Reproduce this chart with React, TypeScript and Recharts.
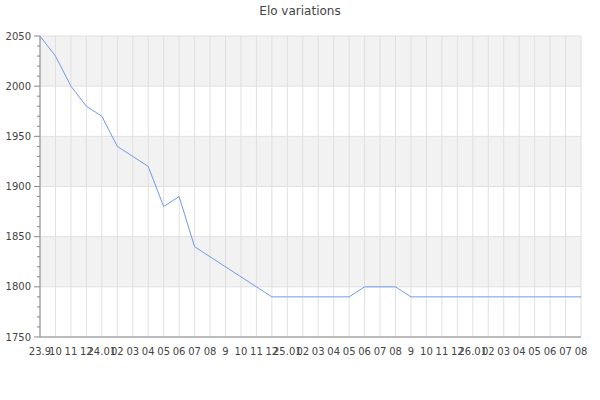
import { CartesianGrid, Line, LineChart, XAxis, YAxis } from 'recharts';

const MONTHS = [
  '23.9', '10', '11', '12',
  '24.01', '02', '03', '04', '05', '06', '07', '08', '9', '10', '11', '12',
  '25.01', '02', '03', '04', '05', '06', '07', '08', '9', '10', '11', '12',
  '26.01', '02', '03', '04', '05', '06', '07', '08',
];

const ELO = [
  2050, 2030, 2000, 1980, 1970, 1940, 1930, 1920, 1880, 1890, 1840, 1830,
  1820, 1810, 1800, 1790, 1790, 1790, 1790, 1790, 1790, 1800, 1800, 1800,
  1790, 1790, 1790, 1790, 1790, 1790, 1790, 1790, 1790, 1790, 1790, 1790,
];

const Y_TICKS = [1750, 1760, 1770, 1780, 1790, 1800, 1810, 1820, 1830, 1840,
  1850, 1860, 1870, 1880, 1890, 1900, 1910, 1920, 1930, 1940, 1950, 1960,
  1970, 1980, 1990, 2000, 2010, 2020, 2030, 2040, 2050];
const Y_MAJOR = [1750, 1800, 1850, 1900, 1950, 2000, 2050];

const data = MONTHS.map((label, i) => ({ idx: i, label, elo: ELO[i] }));

const FONT = '"DejaVu Sans", sans-serif';

// y tick: long line + label on the 50s, short line otherwise
const YTick = (props: any) => {
  const { x, y, payload } = props;
  const axisX = x + 9;
  const major = Y_MAJOR.includes(payload.value);
  return (
    <g>
      <line x1={axisX - (major ? 6 : 3)} x2={axisX} y1={y} y2={y} stroke="#888" />
      {major && (
        <text x={x} y={y} dy="0.35em" textAnchor="end" fontSize={10} fill="#444" fontFamily={FONT}>
          {payload.value}
        </text>
      )}
    </g>
  );
};

export default function App() {
  return (
    <div style={{ position: 'absolute', left: 0, top: 0, width: 600, height: 400, background: '#fff' }}>
      <div
        style={{
          position: 'absolute', top: 4, left: 0, width: 600, textAlign: 'center',
          fontFamily: FONT, fontSize: 12, color: '#444',
        }}
      >
        Elo variations
      </div>
      <LineChart width={600} height={400} data={data} margin={{ top: 36, right: 19, bottom: 33, left: 0 }}>
        <CartesianGrid stroke="#e0e0e0" horizontalFill={['#f2f2f2', '#ffffff']} fillOpacity={1}
          horizontalValues={Y_MAJOR} />
        <XAxis
          dataKey="idx"
          type="number"
          domain={[0, MONTHS.length - 1]}
          ticks={data.map((d) => d.idx)}
          interval={0}
          tickFormatter={(v) => MONTHS[v]}
          tickLine={false}
          tickSize={0}
          tickMargin={11}
          height={30}
          stroke="#888"
          tick={{ fontSize: 10, fill: '#444', fontFamily: FONT }}
        />
        <YAxis
          domain={[1750, 2050]}
          ticks={Y_TICKS}
          interval={0}
          width={40}
          tickLine={false}
          tickSize={6}
          tickMargin={3}
          stroke="#888"
          tick={<YTick />}
        />
        <Line dataKey="elo" stroke="#6f9be8" strokeWidth={1} dot={false} isAnimationActive={false} />
      </LineChart>
    </div>
  );
}
